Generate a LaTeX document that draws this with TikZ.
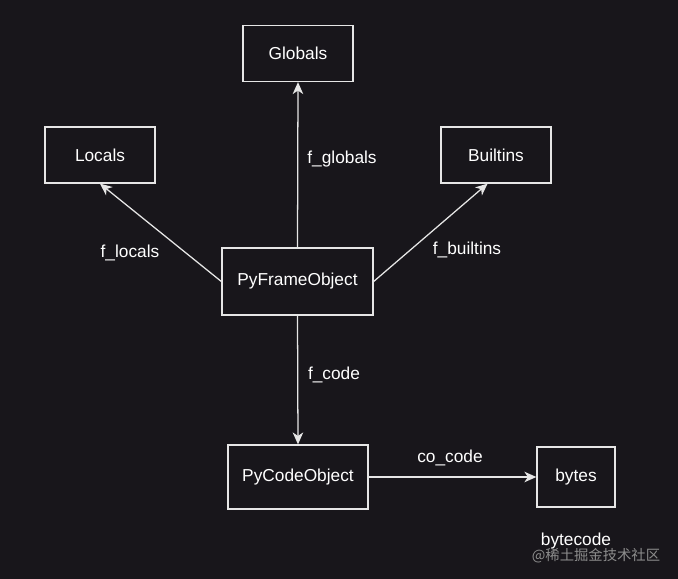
\documentclass[tikz,border=0pt]{standalone}
\usepackage{fontspec}
\setmainfont{Liberation Sans}
\newfontfamily\cjkfont{Noto Sans CJK SC}
\usetikzlibrary{arrows.meta}

\definecolor{bgdark}{HTML}{18161B}
\definecolor{linegray}{HTML}{E6E6E6}
\definecolor{markgray}{HTML}{8C8C8C}

\tikzset{
  objbox/.style={draw=linegray, line width=0.9pt, text=white, minimum height=1.4cm, font=\fontsize{12.3}{14}\selectfont},
  edgelabel/.style={text=white, font=\fontsize{12.3}{14}\selectfont},
  link/.style={draw=linegray, line width=0.9pt, -{Stealth[length=8.5pt, width=7.5pt, inset=2.5pt]}}
}

\begin{document}
\begin{tikzpicture}[x=0.025cm, y=-0.025cm]
\fill[bgdark] (0,0) rectangle (678,579);
\useasboundingbox (0,0) rectangle (678,579);

% boxes
\node[objbox, minimum width=2.75cm] (globals) at (298,53.5) {Globals};
\node[objbox, minimum width=2.75cm] (locals) at (100,155) {Locals};
\node[objbox, minimum width=2.75cm] (builtins) at (496,155) {Builtins};
\node[objbox, minimum width=3.775cm, minimum height=1.675cm] (frame) at (297.5,281.5) {PyFrameObject};
\node[objbox, minimum width=3.5cm, minimum height=1.6cm] (code) at (298,477) {PyCodeObject};
\node[objbox, minimum width=1.95cm, minimum height=1.5cm] (bytes) at (576,477) {bytes};

% edges
\draw[link] (frame.north) -- (globals.south);
\draw[link] (frame.west) -- (locals.south);
\draw[link] (frame.east) -- ([xshift=-6]builtins.south);
\draw[link] (frame.south) -- (code.north);
\draw[link] (code.east) -- (bytes.west);

% labels
\node[edgelabel] (lglobals) at (342,159) {f\_globals};
\node[edgelabel] (llocals) at (130,253) {f\_locals};
\node[edgelabel] (lbuiltins) at (467,250) {f\_builtins};
\node[edgelabel] (lcode) at (334,375) {f\_code};
\node[edgelabel] (lcocode) at (450,458) {co\_code};
\node[edgelabel] (lbytecode) at (576,541) {bytecode};
\node[text=markgray, font=\cjkfont\fontsize{10.2}{12}\selectfont] (mark) at (596,556) {@稀土掘金技术社区};
\end{tikzpicture}
\end{document}
